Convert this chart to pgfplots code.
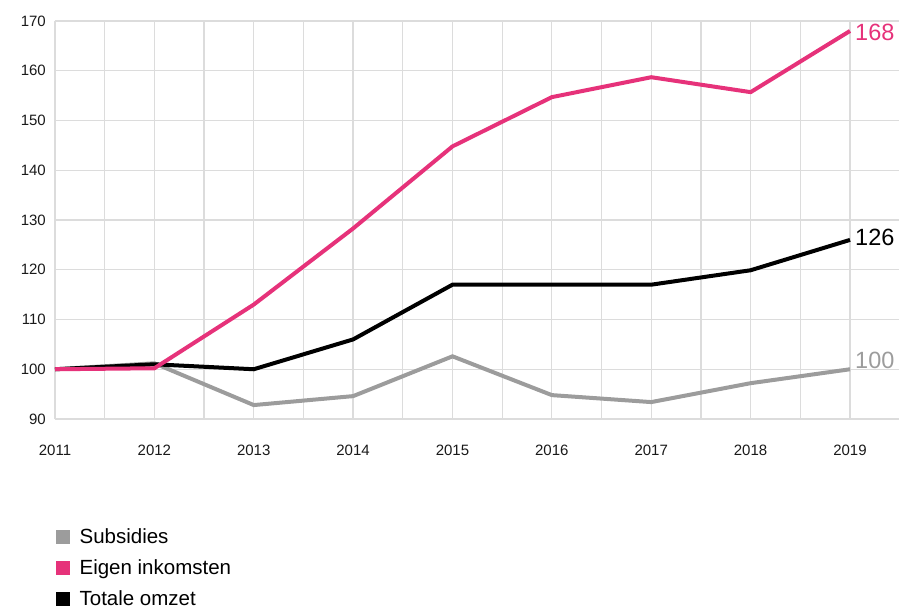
\documentclass[border=0pt]{standalone}
\usepackage{pgfplots}
\pgfplotsset{compat=1.18}
\usepackage{fontspec}
\setmainfont{Liberation Sans}
\definecolor{roze}{HTML}{E6327A}
\definecolor{grijs}{HTML}{9C9C9C}
\definecolor{rooster}{HTML}{DCDCDC}
\begin{document}
\begin{tikzpicture}
\path[use as bounding box] (-55pt,-189pt) rectangle (844pt,419pt);
\begin{axis}[
    scale only axis,
    width=844pt, height=398pt,
    xmin=2011, xmax=2019.493,
    ymin=90, ymax=170,
    clip=false,
    axis line style={draw=none},
    tick style={draw=none},
    xtick={2011,...,2019},
    minor xtick={2011.5,2012.5,...,2018.5},
    ytick={90,100,...,170},
    grid=both,
    major grid style={rooster, line width=1.3pt},
    minor grid style={rooster, line width=1.3pt},
    /pgf/number format/1000 sep={},
    /pgf/number format/assume math mode=true,
    ticklabel style={font=\fontsize{15}{18}\selectfont, text=black!90, inner sep=0pt},
    yticklabel style={anchor=east},
    yticklabel shift=9pt,
    xticklabel style={anchor=base},
    xticklabel shift=36pt,
    legend image code/.code={\fill[#1] (0pt,-7pt) rectangle (13pt,6pt);},
    legend style={draw=none, fill=none, inner sep=0pt,
        at={(axis description cs:0,0)}, anchor=north west,
        xshift=1pt, yshift=-109pt,
        font=\fontsize{20.5}{24}\selectfont,
        nodes={inner sep=0pt, text height=15pt, text depth=0pt},
        row sep=16pt,
        /tikz/every odd column/.append style={column sep=10pt}},
    legend cell align=left,
]
\addplot[grijs, line width=4pt, forget plot] coordinates {
    (2011,100) (2012,101.2) (2013,92.8) (2014,94.6) (2015,102.6)
    (2016,94.8) (2017,93.4) (2018,97.2) (2019,100)
};
\addplot[black, line width=4pt, forget plot] coordinates {
    (2011,100) (2012,101) (2013,100) (2014,106) (2015,117)
    (2016,117) (2017,117) (2018,119.9) (2019,126)
};
\addplot[roze, line width=4pt, forget plot] coordinates {
    (2011,100) (2012,100.2) (2013,113) (2014,128.3) (2015,144.8)
    (2016,154.7) (2017,158.7) (2018,155.7) (2019,168)
};
\addlegendimage{grijs}
\addlegendentry{Subsidies}
\addlegendimage{roze}
\addlegendentry{Eigen inkomsten}
\addlegendimage{black}
\addlegendentry{Totale omzet}

\node[anchor=west, roze, font=\fontsize{23.5}{26}\selectfont, inner sep=0pt, xshift=5pt, yshift=-1pt] at (axis cs:2019,168) {168};
\node[anchor=west, black, font=\fontsize{23.5}{26}\selectfont, inner sep=0pt, xshift=5pt, yshift=2pt] at (axis cs:2019,126) {126};
\node[anchor=west, grijs, font=\fontsize{23.5}{26}\selectfont, inner sep=0pt, xshift=5pt, yshift=9pt] at (axis cs:2019,100) {100};
\end{axis}
\end{tikzpicture}
\end{document}
